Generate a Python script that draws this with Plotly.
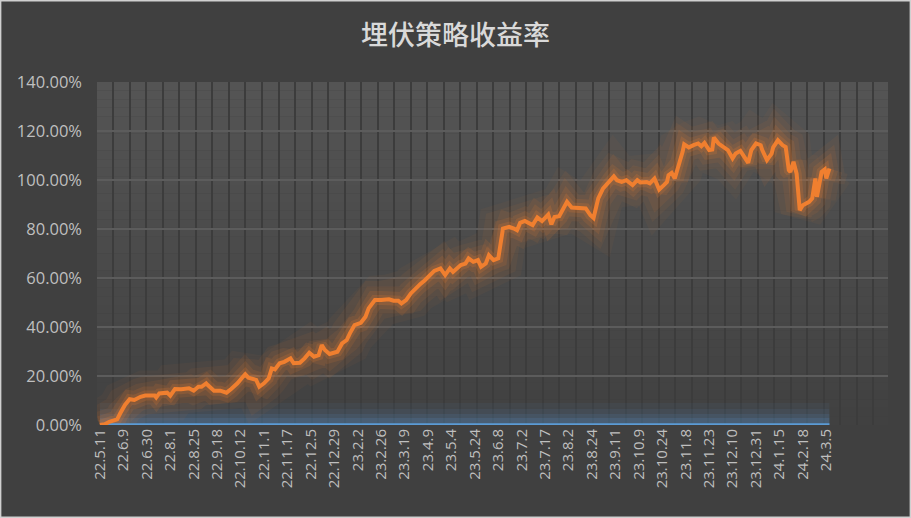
import plotly.graph_objects as go

# category labels shown on the x axis (every 15th trading day)
tick_labels = ['22.5.11', '22.6.9', '22.6.30', '22.8.1', '22.8.25', '22.9.18', '22.10.12', '22.11.1',
               '22.11.17', '22.12.5', '22.12.29', '23.2.2', '23.2.26', '23.3.19', '23.4.9', '23.5.4',
               '23.5.24', '23.6.8', '23.7.2', '23.7.17', '23.8.2', '23.8.24', '23.9.11', '23.10.9',
               '23.10.24', '23.11.8', '23.11.23', '23.12.10', '23.12.31', '24.1.15', '24.2.18', '24.3.5']
tick_pos = [i * 15 for i in range(len(tick_labels))]

# strategy return (%) at category index
day_idx = [0, 3, 6, 11, 13, 16, 19, 22, 26, 29, 35, 36, 38, 43, 45, 48, 52, 57, 60, 63,
           65, 68, 69, 73, 77, 81, 84, 88, 91, 93, 95, 98, 100, 102, 105, 108, 110, 112, 115, 118,
           122, 124, 128, 131, 134, 137, 140, 142, 144, 147, 152, 155, 158, 160, 163, 167, 170, 172, 173, 176,
           180, 185, 188, 191, 193, 196, 199, 202, 205, 208, 211, 214, 218, 221, 224, 226, 231, 234, 236, 239,
           242, 244, 247, 249, 252, 255, 258, 262, 265, 267, 269, 272, 277, 280, 283, 287, 289, 291, 294, 296,
           299, 302, 307, 311, 314, 316, 319, 322, 325, 327, 329, 331, 334, 337, 341, 344, 346, 350, 352, 355,
           358, 361, 363, 364, 366, 368, 370, 373, 374, 377, 380, 383, 385, 387, 390, 392, 393, 396, 399, 402,
           405, 407, 410, 413, 415, 417, 420, 423, 424, 427, 430, 431, 434, 437, 439, 441, 442, 444, 446, 448,
           450, 454, 456, 458, 459, 462, 464, 465, 467]
strategy_ret = [0.0, 0.3, 1.3, 2.3, 4.8, 8.2, 10.5, 10.2, 11.5, 12.0, 12.0, 11.2, 12.9, 13.2, 12.0, 14.7, 14.6, 15.0, 14.0, 15.6,
                15.6, 17.0, 16.3, 14.0, 14.0, 13.2, 14.7, 17.0, 19.3, 20.7, 19.3, 19.0, 18.4, 15.6, 17.0, 19.0, 23.1, 22.7, 25.2, 25.8,
                27.2, 25.2, 25.4, 27.2, 29.5, 27.9, 28.5, 32.6, 30.6, 29.0, 29.9, 33.3, 34.7, 37.4, 40.8, 41.7, 44.2, 47.6, 48.5, 51.0,
                51.0, 51.3, 50.7, 50.7, 49.6, 51.0, 53.7, 55.8, 57.5, 59.1, 61.2, 62.9, 63.9, 61.2, 63.9, 62.5, 65.3, 65.9, 68.0, 66.6,
                67.3, 64.6, 65.9, 69.3, 67.3, 68.0, 80.2, 80.9, 80.2, 79.5, 82.5, 83.3, 81.6, 84.7, 83.2, 85.9, 81.9, 84.9, 85.2, 87.7,
                91.1, 88.8, 88.8, 88.4, 85.6, 84.5, 92.5, 96.5, 98.6, 99.9, 101.5, 99.9, 99.2, 99.9, 97.9, 99.9, 99.0, 99.2, 98.6, 100.6,
                96.1, 97.9, 99.2, 102.0, 102.9, 100.6, 104.7, 111.5, 114.6, 113.3, 114.2, 114.9, 113.8, 115.1, 112.2, 112.4, 117.3, 114.9, 113.5, 112.2,
                108.8, 110.8, 111.9, 109.2, 107.0, 112.2, 114.9, 114.2, 112.2, 108.1, 110.8, 113.3, 116.2, 114.2, 113.5, 104.0, 103.3, 107.4, 102.6, 87.7,
                89.7, 91.1, 92.5, 100.6, 93.1, 103.3, 104.3, 100.6, 104.7]
baseline = [0.0 for _ in day_idx]

ORANGE = '#f07f2f'
BLUE = '#5b9bd5'

W, H = 911, 518
ml, mr, mt, mb = 97, 23, 82, 93

fig = go.Figure()

# soft glow under the lines
for w, op in [(44, 0.06), (32, 0.08), (22, 0.11), (14, 0.15)]:
    fig.add_trace(go.Scatter(x=day_idx, y=baseline, mode='lines', opacity=op,
                             line=dict(color=BLUE, width=w), hoverinfo='skip', showlegend=False))
for w, op in [(50, 0.04), (38, 0.06), (27, 0.08), (18, 0.12), (10, 0.18)]:
    fig.add_trace(go.Scatter(x=day_idx, y=strategy_ret, mode='lines', opacity=op,
                             line=dict(color=ORANGE, width=w), hoverinfo='skip', showlegend=False))

fig.add_trace(go.Scatter(x=day_idx, y=baseline, mode='lines', line=dict(color=BLUE, width=3.5),
                         showlegend=False))
fig.add_trace(go.Scatter(x=day_idx, y=strategy_ret, mode='lines', line=dict(color=ORANGE, width=4),
                         showlegend=False))

# vertical gradient in the plot area (dark at the bottom, lighter at the top)
n_bands = 40
shapes = []
for i in range(n_bands):
    t = i / (n_bands - 1)
    c = int(round(0x41 + (0x54 - 0x41) * t))
    shapes.append(dict(type='rect', xref='paper', yref='paper', x0=0, x1=1,
                       y0=i / n_bands, y1=(i + 1) / n_bands, layer='below',
                       line=dict(width=0), fillcolor=f'rgb({c},{c},{c})'))

# light frame round the whole chart
pw, ph = W - ml - mr, H - mt - mb
shapes.append(dict(type='rect', xref='paper', yref='paper',
                   x0=-ml / pw + 0.0008, x1=1 + mr / pw - 0.0008,
                   y0=-mb / ph + 0.002, y1=1 + mt / ph - 0.002,
                   line=dict(color='#d0d0d0', width=1.5)))

fig.update_layout(
    width=W, height=H,
    margin=dict(l=ml, r=mr, t=mt, b=mb),
    paper_bgcolor='#404040',
    plot_bgcolor='rgba(0,0,0,0)',
    title=dict(text='埋伏策略收益率', x=0.5, xanchor='center', y=0.932, yanchor='middle',
               font=dict(family='Noto Sans CJK SC', size=27, color='#d9d9d9', weight=500)),
    shapes=shapes,
    font=dict(family='Open Sans, Noto Sans CJK SC', color='#bfbfbf'),
)

fig.update_xaxes(
    range=[-1.9, 504.5],
    tickmode='array', tickvals=tick_pos, ticktext=tick_labels,
    tickangle=-90, tickfont=dict(size=15, color='#bfbfbf'),
    showgrid=False, zeroline=False, showline=False, ticks='',
    minor=dict(tick0=8.52, dtick=10.58, showgrid=True, gridcolor='#3c3c3c', gridwidth=1.5, ticks=''),
)
fig.update_yaxes(
    range=[0, 140], dtick=20, tickformat='.2f', ticksuffix='%',
    tickfont=dict(size=16.5, color='#bfbfbf'),
    showgrid=True, gridcolor='#5c5c5c', gridwidth=1.5,
    zeroline=False, showline=False, ticks='', ticklabelstandoff=14,
)

fig.write_html('out.html', config={'displayModeBar': False},
               post_script="document.body.style.margin='0';")
